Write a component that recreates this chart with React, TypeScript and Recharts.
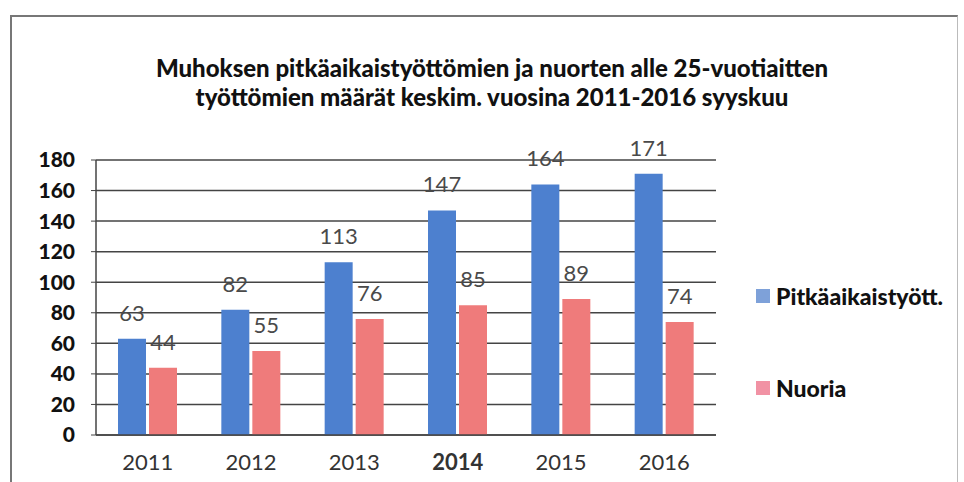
import React from "react";
import { BarChart, Bar, XAxis, YAxis, CartesianGrid, LabelList } from "recharts";

const years = ["2011", "2012", "2013", "2014", "2015", "2016"];
const pitkaaikais = [63, 82, 113, 147, 164, 171];
const nuoria = [44, 55, 76, 85, 89, 74];
const yTicks = [0, 20, 40, 60, 80, 100, 120, 140, 160, 180];
const seriesNames = ["Pitkäaikaistyött.", "Nuoria"];

const data = years.map((y, i) => ({ year: y, p: pitkaaikais[i], n: nuoria[i] }));

const FONT = "Lato, 'Open Sans', sans-serif";
const BLUE = "#4d80cf";
const PINK = "#ef7b7b";

const XTick = (props: any) => {
  const { x, y, payload } = props;
  return (
    <text x={x} y={y + 27} textAnchor="middle" fontFamily={FONT} fontSize={22}
      fontWeight={payload.value === "2014" ? 700 : 400} fill="#333">
      {payload.value}
    </text>
  );
};

export default function App() {
  return (
    <div style={{ position: "absolute", left: 0, top: 0, width: 964, height: 482, background: "#fff" }}>
      <div style={{ position: "absolute", left: 10, top: 15, width: 948, height: 470,
        borderLeft: "2px solid #777", borderTop: "2px solid #777", borderRight: "1px solid #bbb", boxSizing: "border-box" }} />
      <div style={{ position: "absolute", left: 0, top: 53, width: 984, textAlign: "center",
        fontFamily: FONT, fontWeight: 900, fontSize: 24, lineHeight: "29px", color: "#111" }}>
        Muhoksen pitkäaikaistyöttömien ja nuorten alle 25-vuotiaitten<br />
        työttömien määrät keskim. vuosina 2011-2016 syyskuu
      </div>
      <div style={{ position: "absolute", left: 756, top: 282, fontFamily: FONT, fontWeight: 900, fontSize: 23, color: "#111" }}>
        <div style={{ display: "flex", alignItems: "center", height: 28 }}>
          <span style={{ width: 14, height: 14, background: "#7ea1d9", display: "inline-block", marginRight: 6 }} />
          {seriesNames[0]}
        </div>
        <div style={{ display: "flex", alignItems: "center", height: 28, marginTop: 64 }}>
          <span style={{ width: 14, height: 14, background: "#f192a4", display: "inline-block", marginRight: 6 }} />
          {seriesNames[1]}
        </div>
      </div>
      <BarChart width={964} height={482} data={data}
        margin={{ top: 160, right: 248, bottom: 7, left: 16 }}
        barSize={28} barGap={3}>
        <CartesianGrid vertical={false} stroke="#444" strokeWidth={1.5} />
        <XAxis dataKey="year" tick={<XTick />} tickLine={false} axisLine={{ stroke: "#444", strokeWidth: 1.5 }} height={40} interval={0} />
        <YAxis domain={[0, 180]} ticks={yTicks} width={80} interval={0}
          axisLine={{ stroke: "#444", strokeWidth: 1.5 }} tickLine={{ stroke: "#444" }} tickSize={5}
          tick={{ fontFamily: FONT, fontSize: 21, fontWeight: 900, fill: "#111", dx: -14 }} />
        <Bar dataKey="p" name={seriesNames[0]} fill={BLUE} isAnimationActive={false}>
          <LabelList dataKey="p" position="top" offset={18} fill="#4a4a4a" fontFamily={FONT} fontSize={22} />
        </Bar>
        <Bar dataKey="n" name={seriesNames[1]} fill={PINK} isAnimationActive={false}>
          <LabelList dataKey="n" position="top" offset={18} fill="#4a4a4a" fontFamily={FONT} fontSize={22} />
        </Bar>
      </BarChart>
    </div>
  );
}
